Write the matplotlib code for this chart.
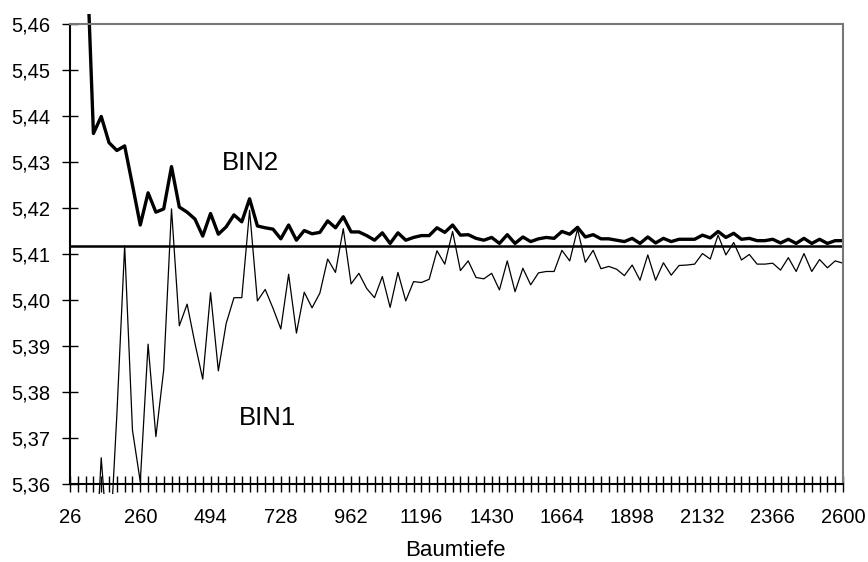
import matplotlib
matplotlib.use("Agg")
from matplotlib import pyplot as plt
from matplotlib.patches import Rectangle
from matplotlib.ticker import FuncFormatter

plt.rcParams['font.family'] = ['Liberation Sans', 'DejaVu Sans']

# tree depth steps (26 ... 2600)
depths = [26 * k for k in range(1, 101)]

bin2 = [5.56, 5.51, 5.482, 5.4362, 5.4399, 5.4342, 5.4325, 5.4335, 5.425, 5.4163,
        5.4233, 5.4191, 5.4198, 5.429, 5.4202, 5.4191, 5.4176, 5.4139, 5.4188, 5.4143,
        5.4159, 5.4185, 5.417, 5.422, 5.4161, 5.4157, 5.4154, 5.4133, 5.4163, 5.4130,
        5.4151, 5.4144, 5.4147, 5.4172, 5.4157, 5.4181, 5.4148, 5.4148, 5.4140, 5.4130,
        5.4146, 5.4123, 5.4146, 5.4130, 5.4136, 5.4140, 5.4140, 5.4157, 5.4147, 5.4163,
        5.4141, 5.4142, 5.4134, 5.4130, 5.4136, 5.4123, 5.4142, 5.4123, 5.4137, 5.4127,
        5.4133, 5.4136, 5.4134, 5.4149, 5.4143, 5.4158, 5.4137, 5.4142, 5.4133, 5.4133,
        5.4130, 5.4127, 5.4134, 5.4123, 5.4137, 5.4124, 5.4134, 5.4127, 5.4132, 5.4132,
        5.4132, 5.4141, 5.4135, 5.4149, 5.4136, 5.4145, 5.4132, 5.4134, 5.4129, 5.4129,
        5.4132, 5.4124, 5.4132, 5.4123, 5.4134, 5.4123, 5.4132, 5.4123, 5.4129, 5.4129]

bin1 = [5.33, 5.34, 5.32, 5.335, 5.3657, 5.343, 5.375, 5.4118, 5.3717, 5.3605,
        5.3904, 5.3703, 5.3848, 5.4198, 5.3944, 5.3991, 5.3906, 5.3828, 5.4016, 5.3846,
        5.3949, 5.4005, 5.4005, 5.4195, 5.3998, 5.4023, 5.3982, 5.3937, 5.4056, 5.3928,
        5.4017, 5.3983, 5.4015, 5.4089, 5.4060, 5.4155, 5.4035, 5.4058, 5.4025, 5.4005,
        5.4051, 5.3984, 5.4060, 5.3998, 5.4040, 5.4038, 5.4045, 5.4107, 5.4078, 5.4149,
        5.4064, 5.4085, 5.4049, 5.4046, 5.4058, 5.4022, 5.4085, 5.4018, 5.4069, 5.4033,
        5.4059, 5.4062, 5.4062, 5.4108, 5.4085, 5.4154, 5.4082, 5.4108, 5.4068, 5.4073,
        5.4067, 5.4053, 5.4076, 5.4043, 5.4098, 5.4043, 5.4081, 5.4054, 5.4075, 5.4076,
        5.4078, 5.4101, 5.4089, 5.4141, 5.4098, 5.4125, 5.4087, 5.4099, 5.4078, 5.4078,
        5.4080, 5.4065, 5.4092, 5.4062, 5.4101, 5.4062, 5.4088, 5.4070, 5.4085, 5.4080]

reference = 5.4118
y_ticks = [5.36, 5.37, 5.38, 5.39, 5.40, 5.41, 5.42, 5.43, 5.44, 5.45, 5.46]

fig = plt.figure(figsize=(8.68, 5.62), dpi=100)
ax = fig.add_axes([70 / 868, 1 - 484 / 562, 773 / 868, 460 / 562])

l2, = ax.plot(depths, bin2, color='black', linewidth=2.4)
l1, = ax.plot(depths, bin1, color='black', linewidth=0.9)
ax.axhline(reference, color='black', linewidth=1.8)

# lines may run a little past the plot frame, as in the original
for ln in (l1, l2):
    ln.set_clip_path(Rectangle((0, -0.022), 1, 1.044, transform=ax.transAxes))

ax.set_xlim(26, 2600)
ax.set_ylim(5.36, 5.46)
ax.set_yticks(y_ticks)
ax.yaxis.set_major_formatter(FuncFormatter(lambda v, p: f"{v:.2f}".replace('.', ',')))
ax.set_xticks(depths)
ax.set_xticklabels([str(d) if i % 9 == 0 else '' for i, d in enumerate(depths)])

ax.tick_params(axis='both', direction='inout', length=12, width=1, labelsize=14.5)
ax.tick_params(axis='y', pad=8)
ax.tick_params(axis='x', pad=11)

for side in ('left', 'bottom'):
    ax.spines[side].set_color('black')
    ax.spines[side].set_linewidth(1.5)
for side in ('top', 'right'):
    ax.spines[side].set_color('#777777')
    ax.spines[side].set_linewidth(1.5)
    ax.spines[side].set_linestyle((0, (1, 1)))

ax.text(0.234, 0.698, 'BIN2', transform=ax.transAxes, fontsize=18.5,
        ha='center', va='center')
ax.text(0.256, 0.1435, 'BIN1', transform=ax.transAxes, fontsize=18.5,
        ha='center', va='center')

fig.text(0.525, 1 - 556 / 562, 'Baumtiefe', fontsize=16, ha='center', va='baseline')

fig.savefig('out.png', dpi=100)
